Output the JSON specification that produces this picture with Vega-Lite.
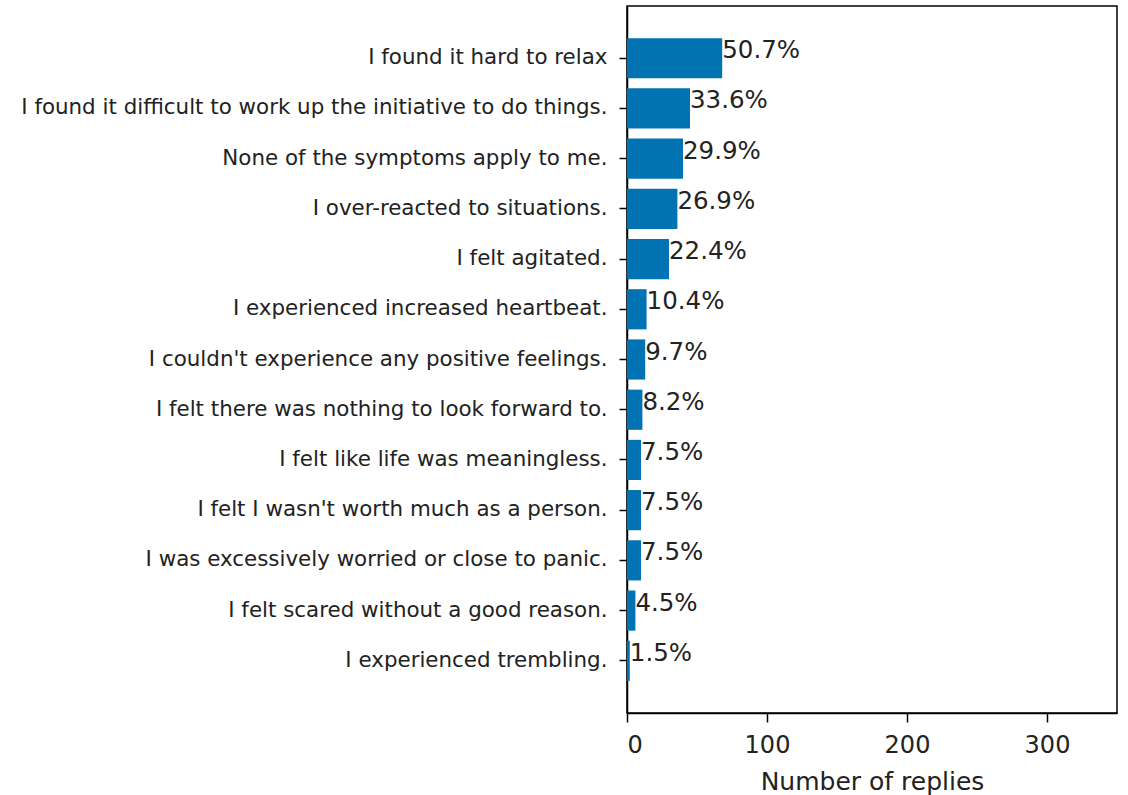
{
  "$schema": "https://vega.github.io/schema/vega-lite/v6.json",
  "width": 490,
  "height": 707,
  "autosize": {"type": "none"},
  "padding": {"left": 627, "top": 6, "right": 11, "bottom": 82},
  "background": "white",
  "config": {
    "font": "DejaVu Sans",
    "view": {"stroke": "black", "strokeWidth": 1.5},
    "axis": {"grid": false, "domainColor": "black", "tickColor": "black", "labelColor": "#222", "titleColor": "#222", "labelFont": "DejaVu Sans", "titleFont": "DejaVu Sans", "domainWidth": 1.5, "tickWidth": 1.5}
  },
  "data": {
    "values": [
      {"symptom": "I found it hard to relax", "count": 68, "pct": "50.7%"},
      {"symptom": "I found it difficult to work up the initiative to do things.", "count": 45, "pct": "33.6%"},
      {"symptom": "None of the symptoms apply to me.", "count": 40, "pct": "29.9%"},
      {"symptom": "I over-reacted to situations.", "count": 36, "pct": "26.9%"},
      {"symptom": "I felt agitated.", "count": 30, "pct": "22.4%"},
      {"symptom": "I experienced increased heartbeat.", "count": 14, "pct": "10.4%"},
      {"symptom": "I couldn't experience any positive feelings.", "count": 13, "pct": "9.7%"},
      {"symptom": "I felt there was nothing to look forward to.", "count": 11, "pct": "8.2%"},
      {"symptom": "I felt like life was meaningless.", "count": 10, "pct": "7.5%"},
      {"symptom": "I felt I wasn't worth much as a person.", "count": 10, "pct": "7.5%"},
      {"symptom": "I was excessively worried or close to panic.", "count": 10, "pct": "7.5%"},
      {"symptom": "I felt scared without a good reason.", "count": 6, "pct": "4.5%"},
      {"symptom": "I experienced trembling.", "count": 2, "pct": "1.5%"}
    ]
  },
  "encoding": {
    "y": {
      "field": "symptom",
      "type": "nominal",
      "sort": null,
      "scale": {"paddingInner": 0.2, "paddingOuter": 0.64},
      "axis": {"title": null, "labelFontSize": 21.4, "tickSize": 8, "labelPadding": 12, "labelLimit": 700}
    }
  },
  "layer": [
    {
      "mark": {"type": "bar", "color": "#0173b2"},
      "encoding": {
        "x": {
          "field": "count",
          "type": "quantitative",
          "scale": {"domain": [0, 350], "nice": false},
          "axis": {"title": "Number of replies", "values": [0, 100, 200, 300], "labelFontSize": 24, "titleFontSize": 25, "titleFontWeight": "normal", "tickSize": 9, "labelPadding": 11, "titlePadding": 12}
        }
      }
    },
    {
      "mark": {"type": "text", "align": "left", "baseline": "alphabetic", "fontSize": 24.5, "color": "#222", "dx": 0, "dy": 0},
      "encoding": {
        "x": {"field": "count", "type": "quantitative"},
        "text": {"field": "pct"}
      }
    }
  ]
}
